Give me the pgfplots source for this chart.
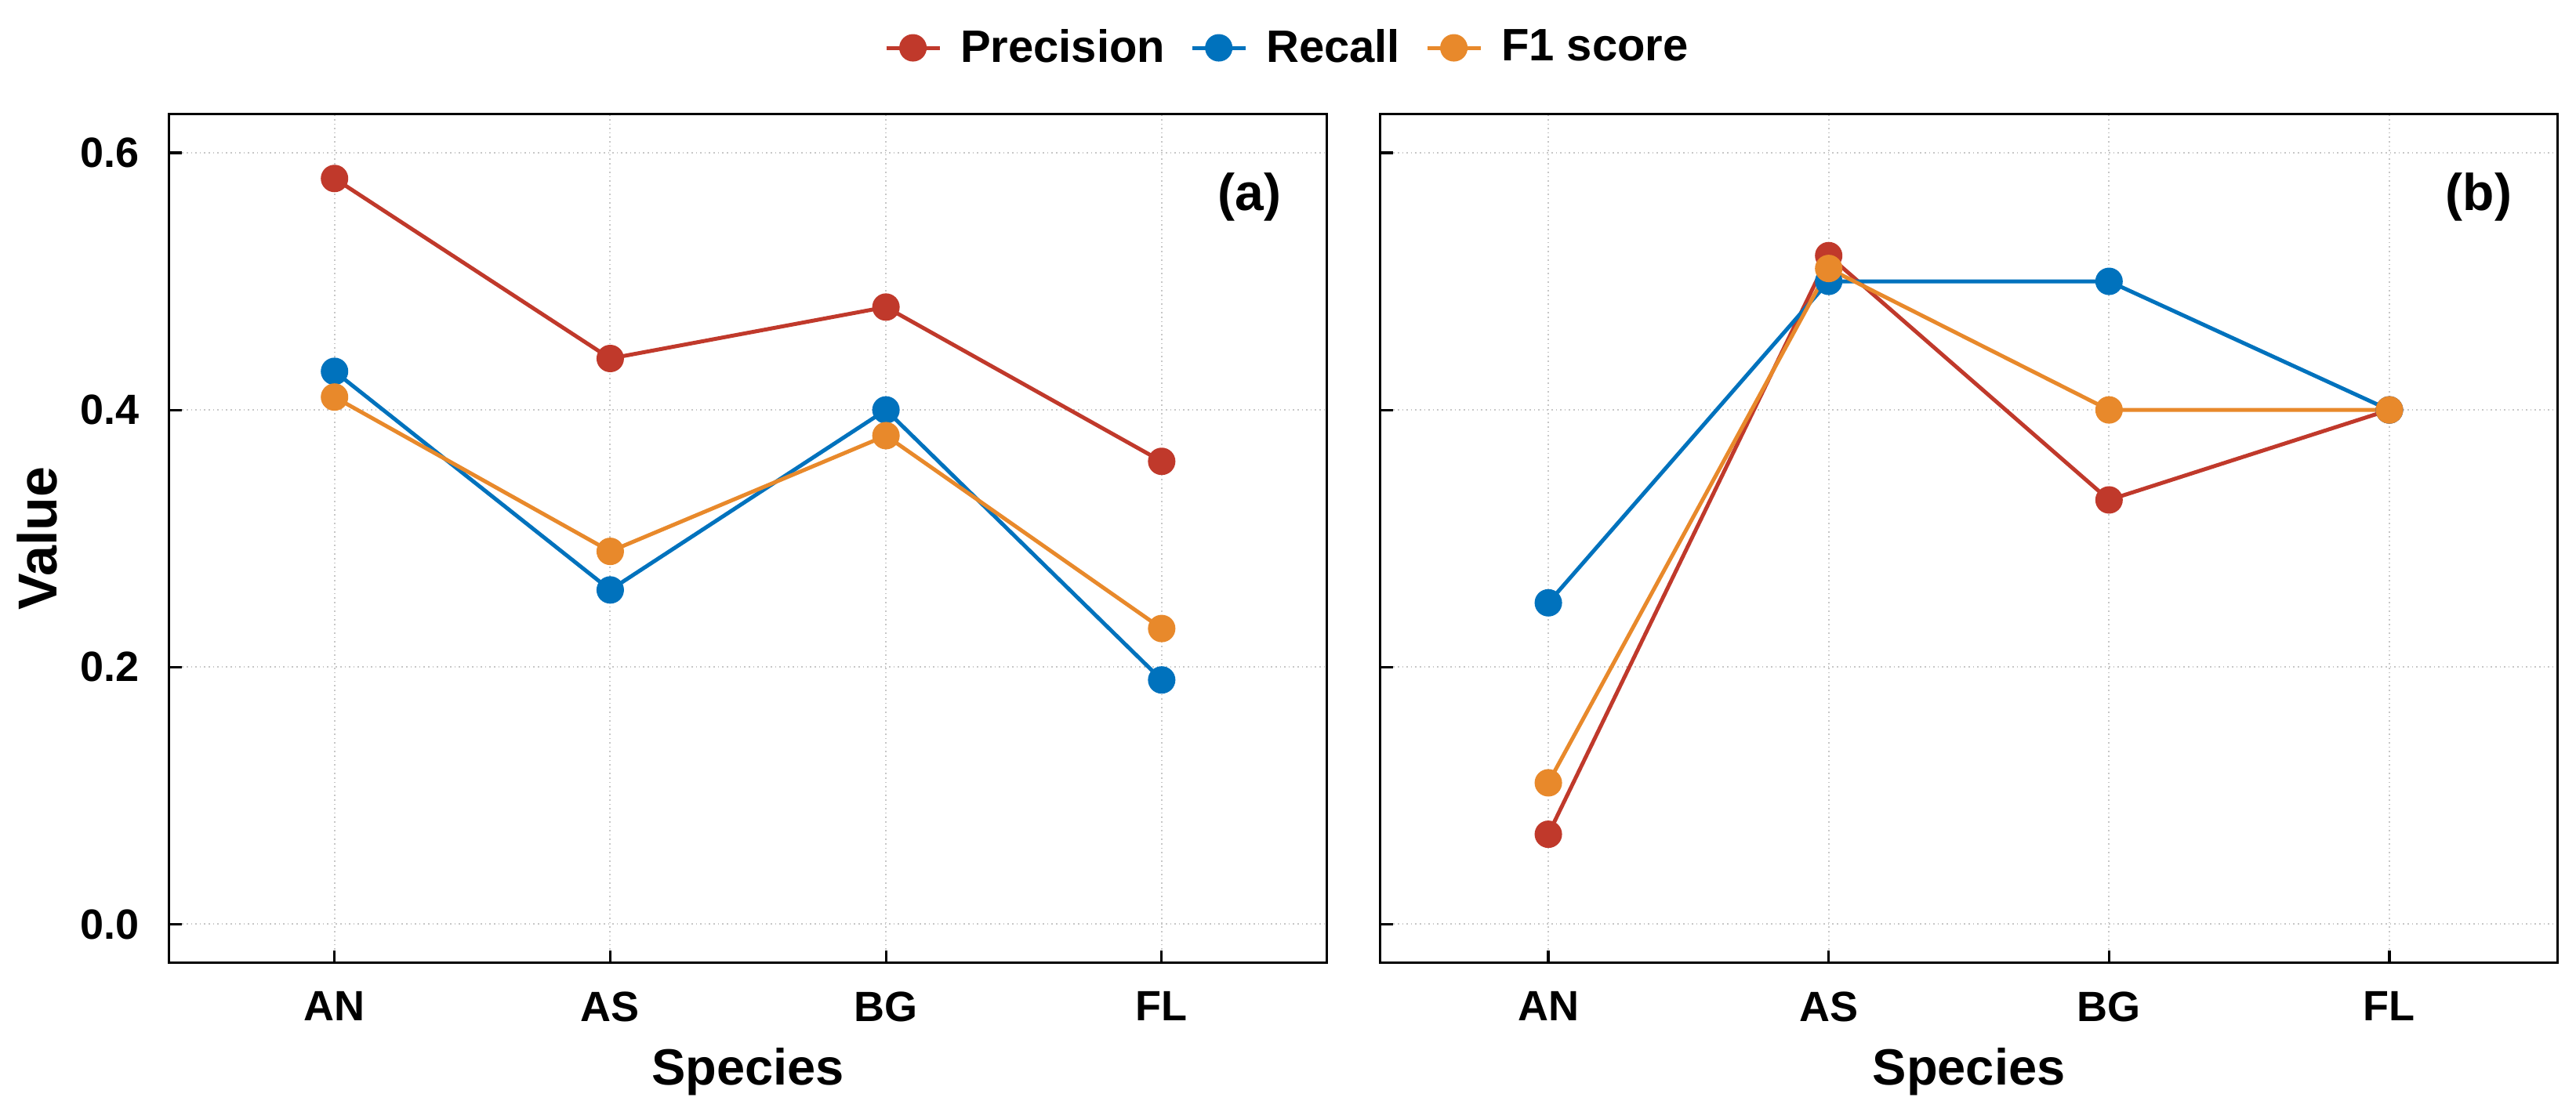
\documentclass[border=0pt]{standalone}
\usepackage{fontspec}
\setmainfont{Liberation Sans}
\usepackage{pgfplots}
\pgfplotsset{compat=1.18}
\definecolor{cP}{HTML}{C0392B}
\definecolor{cR}{HTML}{0072BD}
\definecolor{cF}{HTML}{E8892B}
\pgfplotsset{
 mystyle/.style={
  scale only axis, height=270.75pt,
  xmin=-0.6, xmax=3.6, ymin=-0.03, ymax=0.63,
  xtick={0,1,2,3}, xticklabels={AN,AS,BG,FL},
  ytick={0,0.2,0.4,0.6},
  tick align=inside, xtick pos=lower, ytick pos=left,
  major tick length=4pt,
  every tick/.style={black, line width=0.8pt},
  axis line style={line width=0.8pt},
  grid=major, major grid style={black!22, densely dotted, line width=0.5pt},
  ticklabel style={font=\fontsize{13.5}{13.5}\selectfont\bfseries, inner sep=0pt},
  xticklabel style={yshift=-9pt},
  yticklabel style={xshift=-9.4pt},
  xlabel={Species},
  xlabel style={font=\fontsize{16.25}{16.25}\selectfont\bfseries, at={(axis description cs:0.5,-0.1443)}, anchor=base, inner sep=0pt},
  every axis plot/.append style={line width=1.25pt, mark=*, mark size=3.75pt},
 }
}
\begin{document}
\begin{tikzpicture}
\begin{axis}[mystyle, width=369.3pt, at={(0pt,0pt)}, anchor=south west,
  yticklabels={0.0,0.2,0.4,0.6},
  ylabel={Value},
  ylabel style={font=\fontsize{17.5}{17.5}\selectfont\bfseries, at={(axis description cs:-0.1142,0.5)}, anchor=center},
  legend style={at={(0.9675,1.0782)}, anchor=center, draw=none, fill=none, legend columns=3,
    font=\fontsize{14.5}{14.5}\selectfont\bfseries,
    /tikz/every odd column/.append style={column sep=4pt},
    /tikz/every even column/.append style={column sep=6pt}},
  legend image code/.code={\draw[mark repeat=2,mark phase=2,#1] plot coordinates {(0pt,0pt) (8.5pt,0pt) (17pt,0pt)};},
]
\addplot[color=cP] coordinates {(0,0.58) (1,0.44) (2,0.48) (3,0.36)};
\addlegendentry{Precision}
\addplot[color=cR] coordinates {(0,0.43) (1,0.26) (2,0.40) (3,0.19)};
\addlegendentry{Recall}
\addplot[color=cF] coordinates {(0,0.41) (1,0.29) (2,0.38) (3,0.23)};
\addlegendentry{F1 score}
\node[font=\fontsize{16.5}{16.5}\selectfont\bfseries, anchor=center] at (axis description cs:0.933,0.902) {(a)};
\end{axis}
\begin{axis}[mystyle, width=375.5pt, at={(386.2pt,0pt)}, anchor=south west,
  yticklabels={}]
\addplot[color=cP] coordinates {(0,0.07) (1,0.52) (2,0.33) (3,0.40)};
\addplot[color=cR] coordinates {(0,0.25) (1,0.50) (2,0.50) (3,0.40)};
\addplot[color=cF] coordinates {(0,0.11) (1,0.51) (2,0.40) (3,0.40)};
\node[font=\fontsize{16.5}{16.5}\selectfont\bfseries, anchor=center] at (axis description cs:0.933,0.902) {(b)};
\end{axis}
\path (-53.925pt,-49.575pt) rectangle (767.575pt,307.175pt);
\end{tikzpicture}
\end{document}
